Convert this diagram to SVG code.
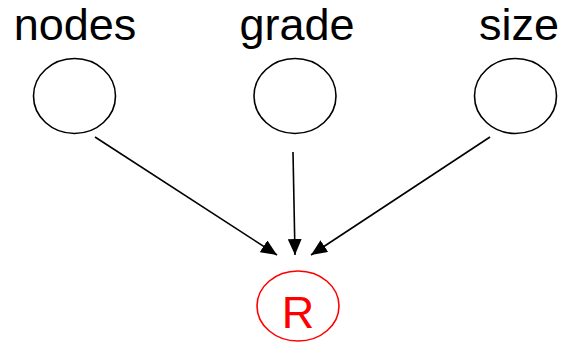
<svg xmlns="http://www.w3.org/2000/svg" width="565" height="344" viewBox="0 0 565 344">
  <style>
    .lbl { font-family: "Liberation Sans", Arial, sans-serif; font-size: 45px; fill: #000; text-anchor: middle; }
    .node { fill: #fff; stroke: #000; stroke-width: 1.6; }
    .target { fill: #fff; stroke: #f00; stroke-width: 1.6; }
    .edge { stroke: #000; stroke-width: 1.6; fill: none; marker-end: url(#arrow); }
  </style>
  <defs>
    <marker id="arrow" markerUnits="userSpaceOnUse" markerWidth="16" markerHeight="14" refX="16" refY="7" orient="auto">
      <path d="M0,0 L16,7 L0,14 Z" fill="#000"/>
    </marker>
  </defs>
  <rect width="565" height="344" fill="#fff"/>

  <g id="edges">
    <line class="edge" x1="95" y1="137" x2="277" y2="255"/>
    <line class="edge" x1="293" y1="152" x2="295" y2="255"/>
    <line class="edge" x1="490" y1="137" x2="311" y2="255"/>
  </g>

  <g id="nodes-node">
    <text class="lbl" x="75" y="40">nodes</text>
    <ellipse class="node" cx="74.5" cy="96" rx="41" ry="37.5"/>
  </g>
  <g id="grade-node">
    <text class="lbl" x="297" y="40">grade</text>
    <ellipse class="node" cx="295" cy="96" rx="41" ry="37.5"/>
  </g>
  <g id="size-node">
    <text class="lbl" x="519" y="40">size</text>
    <ellipse class="node" cx="515.5" cy="96" rx="41" ry="37.5"/>
  </g>
  <g id="R-node">
    <ellipse class="target" cx="298" cy="306" rx="41" ry="35"/>
    <text class="lbl" x="298" y="328" style="fill:#f00">R</text>
  </g>
</svg>
